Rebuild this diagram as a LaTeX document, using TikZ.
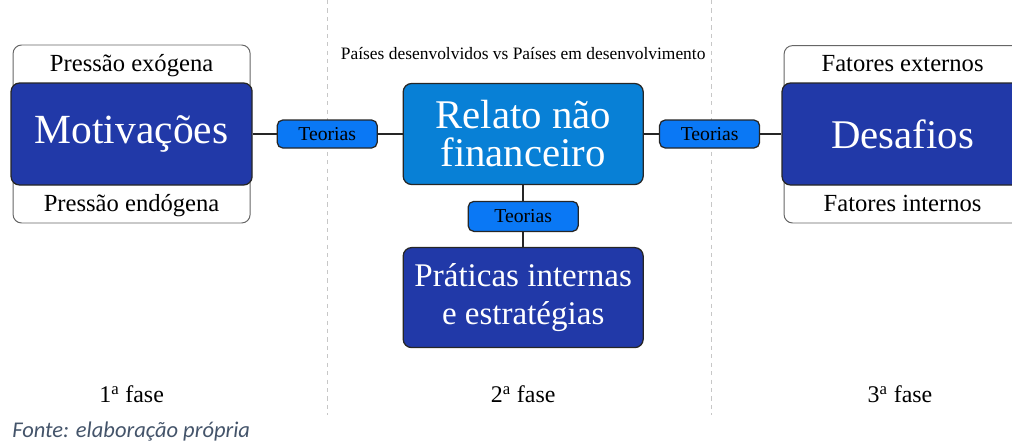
\documentclass[tikz,border=0pt]{standalone}
\usepackage{fontspec}
\setmainfont{Liberation Serif}
\newfontfamily\fontefont{Carlito}
\usetikzlibrary{positioning,backgrounds,calc}
\definecolor{azulesc}{RGB}{33,57,168}
\definecolor{azulmed}{RGB}{8,128,214}
\definecolor{azulcla}{RGB}{10,120,245}
\definecolor{cinzafonte}{RGB}{68,84,106}
\tikzset{
block/.style = {draw=black!85, line width=0.9pt, rectangle, rounded corners=6pt, inner sep=2pt, align=center},
bigblock/.style = {block, fill=azulesc, text=white, minimum height=2.55cm},
midblock/.style = {block, fill=azulmed, text=white, minimum width=6cm, minimum height=2.525cm},
teoria/.style = {block, fill=azulcla, rounded corners=4pt, minimum width=2.5cm, minimum height=0.7cm, font=\rmfamily\fontsize{14}{16}\selectfont},
whitebox/.style = {block, draw=black!60, line width=0.7pt, fill=white, minimum height=1.2cm, font=\rmfamily\fontsize{17.5}{20}\selectfont},
whitetop/.style = {whitebox, text height=0.45cm, text depth=0.35cm},
whitebot/.style = {whitebox, text height=0.75cm, text depth=0.15cm},
faselabel/.style = {font=\rmfamily\fontsize{17}{20}\selectfont},
link/.style = {draw, line width=1pt, black!85},
sep/.style = {draw=black!22, dashed, line width=0.6pt}
}

\begin{document}
\begin{tikzpicture}[node distance=4.9cm]
  \useasboundingbox (0,0) rectangle (25.3,-11.1);
  \coordinate (sepa)  at (8.175,0);
  \coordinate (sepab) at (8.175,-10.375);
  \coordinate (sepb)  at (17.775,0);
  \coordinate (sepbb) at (17.775,-10.375);
  \coordinate (col3)  at (22.5,0);
  \draw [sep] (sepa) -- (sepab);
  \draw [sep] (sepb) -- (sepbb);

  \node [bigblock, minimum width=6.025cm, font=\rmfamily\fontsize{29.5}{30}\selectfont] (motiv) at (3.29,-3.35) {Motivações};
  \node [teoria, right of=motiv, node distance=4.89cm]              (teoa)   {Teorias};
  \node [midblock, right of=teoa, font=\rmfamily\fontsize{29}{27}\selectfont] (relato) {Relato não\\financeiro};
  \node [teoria, right of=relato, node distance=4.66cm]             (teob)   {Teorias};
  \node [bigblock, minimum width=6.025cm, right of=teob, node distance=4.825cm, font=\rmfamily\fontsize{29}{30}\selectfont] (desaf) {Desafios};
  \node [teoria, below of=relato, node distance=2.06cm, minimum width=2.75cm, minimum height=0.75cm] (teoc) {Teorias};
  \node [bigblock, minimum width=6cm, minimum height=2.5cm, below of=teoc, node distance=2.03cm, font=\rmfamily\fontsize{23.5}{27}\selectfont] (prat) {Práticas internas\\e estratégias};
  \node [above of=relato, node distance=2.01cm, font=\rmfamily\fontsize{12.4}{14}\selectfont] (titulo) {Países desenvolvidos vs Países em desenvolvimento};

  \begin{scope}[on background layer]
    \node [whitetop, minimum width=5.925cm, above of=motiv, node distance=1.625cm] (pexo)  {Pressão exógena};
    \node [whitebot, minimum width=5.925cm, below of=motiv, node distance=1.625cm] (pendo) {Pressão endógena};
    \node [whitetop, minimum width=5.925cm, above of=desaf, node distance=1.61cm]  (fext)  {Fatores externos};
    \node [whitebot, minimum width=5.925cm, below of=desaf, node distance=1.625cm] (fint)  {Fatores internos};
  \end{scope}

  \node [faselabel, below of=prat, node distance=2.425cm] (fase2) {2\textsuperscript{a} fase};
  \node [faselabel] (fase1) at (motiv |- fase2) {1\textsuperscript{a} fase};
  \node [faselabel] (fase3) at (col3 |- fase2) {3\textsuperscript{a} fase};
  \node [anchor=base west, inner sep=0pt, text=cinzafonte, font=\fontefont\itshape\fontsize{16}{18}\selectfont] (fonte) at (0.3,-10.925) {Fonte: elaboração própria};

  \draw [link] (motiv) -- (teoa);
  \draw [link] (teoa) -- (relato);
  \draw [link] (relato) -- (teob);
  \draw [link] (teob) -- (desaf);
  \draw [link] (relato) -- (teoc);
  \draw [link] (teoc) -- (prat);
\end{tikzpicture}
\end{document}
